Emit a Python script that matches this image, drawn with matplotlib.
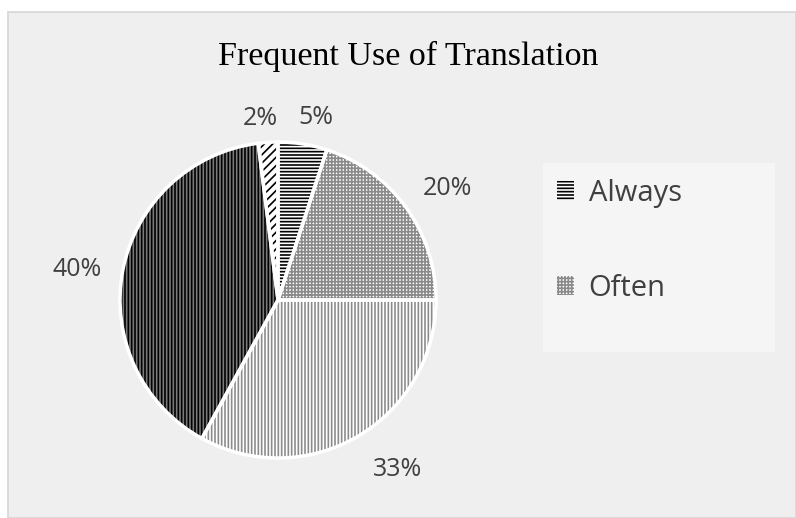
import matplotlib
matplotlib.use("Agg")
import matplotlib.pyplot as plt
import numpy as np
from matplotlib.patches import Rectangle, Patch
from matplotlib.transforms import offset_copy

# ---- data ----
categories = ["Always", "Often", "Sometimes", "Rarely", "Never"]
values = [5, 20, 33, 40, 2]
pct_labels = ["5%", "20%", "33%", "40%", "2%"]
legend_shown = ["Always", "Often"]

# ---- styles ----
faces = ["white", "white", "white", "#7a7a7a", "white"]
hatch_colors = ["black", "#8a8a8a", "#8c8c8c", "black", "black"]
hatches = ["-----", "+++++", "|||||", "|||||", "////"]
label_r = [1.19, 1.29, 1.30, 1.29, 1.17]
label_dang = [-2.7, -2.3, 5.0, 1.5, 1.8]

W, H = 796, 518
plt.rcParams["hatch.linewidth"] = 1.2
fig = plt.figure(figsize=(W / 100, H / 100), dpi=100, facecolor="white")

# chart area background
fig.patches.append(Rectangle((8 / W, 0), 1 - 8 / W, 1 - 12 / H, transform=fig.transFigure,
                             facecolor="#efefef", edgecolor="#d6d6d6", lw=1.2, zorder=-2))
# legend box
fig.patches.append(Rectangle((543 / W, 1 - 352 / H), 232 / W, 189 / H, transform=fig.transFigure,
                             facecolor="#f5f5f5", edgecolor="none", zorder=-1))

cx, cy, r = 278, 300, 158
ax = fig.add_axes([(cx - r) / W, (H - cy - r) / H, 2 * r / W, 2 * r / H])
ax.set_zorder(1)
ax.patch.set_alpha(0)

wedges, _ = ax.pie(values, startangle=90, counterclock=False, radius=1,
                   wedgeprops=dict(linewidth=0))
for w, fc, hc, h in zip(wedges, faces, hatch_colors, hatches):
    w.set_facecolor(fc)
    w.set_edgecolor(hc)
    w.set_hatch(h)
    w.set_linewidth(0)

# white separators / outline
ax.pie(values, startangle=90, counterclock=False, radius=1,
       wedgeprops=dict(fill=False, edgecolor="white", linewidth=2.5))

tr = offset_copy(ax.transData, fig=fig, x=0, y=-1.5, units="points")
for w, lab, rr, da in zip(wedges, pct_labels, label_r, label_dang):
    ang = np.deg2rad((w.theta1 + w.theta2) / 2 + da)
    ax.text(rr * np.cos(ang), rr * np.sin(ang), lab, ha="center", va="center",
            fontsize=18, color="#404040", family="Open Sans", transform=tr)

ax.set_xlim(-1, 1)
ax.set_ylim(-1, 1)
ax.set_aspect("equal")
ax.axis("off")

# title
fig.text(408 / W, 1 - 56 / H, "Frequent Use of Translation", ha="center", va="center",
         fontsize=24.5, family="Liberation Serif", color="black")

# legend
handles = [Patch(facecolor=faces[i], edgecolor=hatch_colors[i], hatch=hatches[i], lw=0)
           for i in range(len(legend_shown))]
leg = fig.legend(handles, legend_shown, loc="upper left",
                 bbox_to_anchor=(545 / W, 1 - 167 / H), frameon=False,
                 prop=dict(family="Open Sans", size=21), labelcolor="#404040",
                 handlelength=0.6, handleheight=0.6, handletextpad=0.5,
                 labelspacing=2.26, borderaxespad=0)

fig.savefig("out.png", dpi=100, facecolor="white")
